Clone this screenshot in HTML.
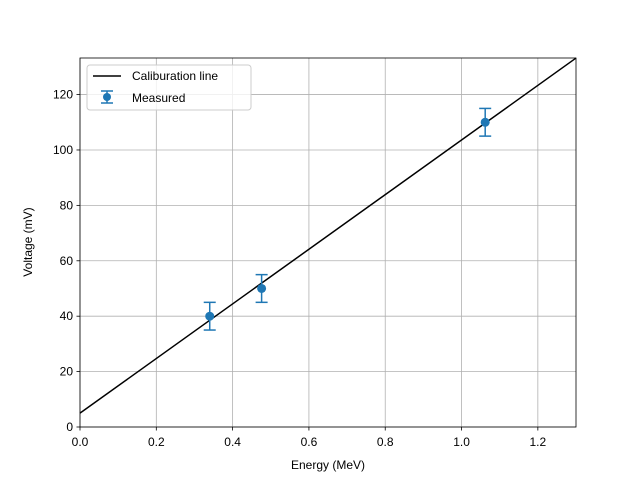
<!DOCTYPE html>
<html><head><meta charset="utf-8"><style>body{margin:0;background:#fff}svg text{font-family:"Liberation Sans","DejaVu Sans",sans-serif;font-size:12px;fill:#000}</style></head>
<body>
<svg id="chart" width="640" height="480" xmlns="http://www.w3.org/2000/svg">
<rect width="640" height="480" fill="#fff"/>
<g id="grid"></g>
<g id="ticks"></g>
<g id="marks"></g>
<rect x="80" y="58" width="496" height="369" fill="none" stroke="#000" stroke-width="0.8"/>
<text x="328" y="469" text-anchor="middle">Energy (MeV)</text>
<text transform="translate(32,242) rotate(-90)" text-anchor="middle">Voltage (mV)</text>
<g>
<rect x="87" y="65" width="164" height="45" rx="3" fill="#fff" fill-opacity="0.8" stroke="#ccc"/>
<line x1="93" y1="76" x2="121" y2="76" stroke="#000" stroke-width="1.5"/>
<text x="132" y="80">Caliburation line</text>
<line x1="107" y1="91" x2="107" y2="103" stroke="#1f77b4" stroke-width="1.5"/>
<line x1="101" y1="91" x2="113" y2="91" stroke="#1f77b4" stroke-width="1.5"/>
<line x1="101" y1="103" x2="113" y2="103" stroke="#1f77b4" stroke-width="1.5"/>
<circle cx="107" cy="97" r="4" fill="#1f77b4"/>
<text x="132" y="102">Measured</text>
</g>
</svg>
<script>
const xTicks=[0,0.2,0.4,0.6,0.8,1.0,1.2];
const xTickLabels=["0.0","0.2","0.4","0.6","0.8","1.0","1.2"];
const yTicks=[0,20,40,60,80,100,120];
const energy=[0.34,0.476,1.062];
const voltage=[40,50,110];
const errors=[5,5,5];
const lineSlope=[98.6];
const lineIntercept=[5];
const X=v=>80+v/1.3*496, Y=v=>427-v/133.2*369;
const NS="http://www.w3.org/2000/svg";
function mk(p,t,a){const e=document.createElementNS(NS,t);for(const k in a)e.setAttribute(k,a[k]);p.appendChild(e);return e;}
const g=document.getElementById('grid'),tk=document.getElementById('ticks'),m=document.getElementById('marks');
xTicks.forEach((v,i)=>{const x=X(v);
 const l=mk(g,'line',{x1:x,x2:x,y1:58,y2:427,stroke:'#b0b0b0','stroke-width':0.8});
 
 
 mk(tk,'line',{x1:x,x2:x,y1:427,y2:430.5,stroke:'#000','stroke-width':0.8});
 const t=mk(tk,'text',{x:x,y:446,'text-anchor':'middle'});t.textContent=xTickLabels[i];
 
 });
yTicks.forEach(v=>{const y=Y(v);
 const l=mk(g,'line',{x1:80,x2:576,y1:y,y2:y,stroke:'#b0b0b0','stroke-width':0.8});
 
 
 mk(tk,'line',{x1:76.5,x2:80,y1:y,y2:y,stroke:'#000','stroke-width':0.8});
 const t=mk(tk,'text',{x:73,y:y+4,'text-anchor':'end'});t.textContent=v;
 
 });
const x1=(133.2-lineIntercept[0])/lineSlope[0];
const cl=mk(m,'line',{x1:X(0),y1:Y(lineIntercept[0]),x2:X(Math.min(1.3,x1)),y2:Y(lineIntercept[0]+lineSlope[0]*Math.min(1.3,x1)),stroke:'#000','stroke-width':1.5});


energy.forEach((e,i)=>{const x=X(e),y=Y(voltage[i]),y1=Y(voltage[i]-errors[i]),y2=Y(voltage[i]+errors[i]);
 const gg=mk(m,'g',{});
 
 
 mk(gg,'line',{x1:x,x2:x,y1:y1,y2:y2,stroke:'#1f77b4','stroke-width':1.5});
 mk(gg,'line',{x1:x-6,x2:x+6,y1:y1,y2:y1,stroke:'#1f77b4','stroke-width':1.5});
 mk(gg,'line',{x1:x-6,x2:x+6,y1:y2,y2:y2,stroke:'#1f77b4','stroke-width':1.5});
 mk(gg,'circle',{cx:x,cy:y,r:4.5,fill:'#1f77b4'});});
</script>
</body></html>
